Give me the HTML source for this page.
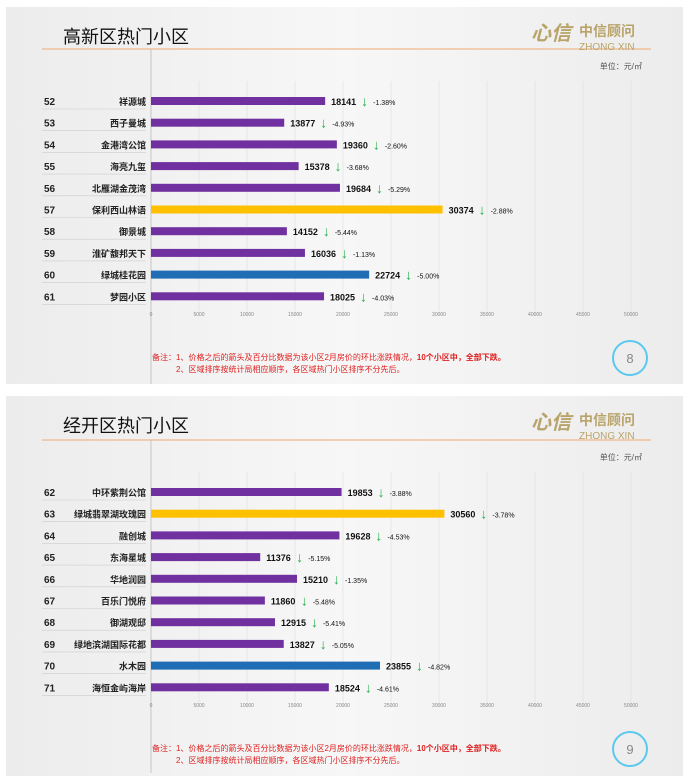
<!DOCTYPE html>
<html><head><meta charset="utf-8">
<style>
body{margin:0;width:689px;height:781px;background:#fff;overflow:hidden;font-family:"Liberation Sans","Noto Sans CJK SC",sans-serif;}
.panel{position:absolute;left:6px;width:677px;background:linear-gradient(90deg,#ececec,#f7f7f7 50%,#ececec);}
</style></head><body>
<div class="panel" style="top:7px;height:377px"><svg id="s1" width="677" height="377"></svg></div>
<div class="panel" style="top:396px;height:380px"><svg id="s2" width="677" height="380"></svg></div>
<script>
const titles1="高新区热门小区";
const ranks1=[52,53,54,55,56,57,58,59,60,61];
const names1=["祥源城","西子曼城","金港湾公馆","海亮九玺","北雁湖金茂湾","保利西山林语","御景城","淮矿馥邦天下","绿城桂花园","梦园小区"];
const prices1=[18141,13877,19360,15378,19684,30374,14152,16036,22724,18025];
const changes1=["-1.38%","-4.93%","-2.60%","-3.68%","-5.29%","-2.88%","-5.44%","-1.13%","-5.00%","-4.03%"];
const colors1=["p","p","p","p","p","g","p","p","b","p"];
const titles2="经开区热门小区";
const ranks2=[62,63,64,65,66,67,68,69,70,71];
const names2=["中环紫荆公馆","绿城翡翠湖玫瑰园","融创城","东海星城","华地润园","百乐门悦府","御湖观邸","绿地滨湖国际花都","水木园","海恒金屿海岸"];
const prices2=[19853,30560,19628,11376,15210,11860,12915,13827,23855,18524];
const changes2=["-3.88%","-3.78%","-4.53%","-5.15%","-1.35%","-5.48%","-5.41%","-5.05%","-4.82%","-4.61%"];
const colors2=["p","g","p","p","p","p","p","p","b","p"];
const ticks=[0,5000,10000,15000,20000,25000,30000,35000,40000,45000,50000];
const NS="http://www.w3.org/2000/svg";
const col={p:"#7030a0",g:"#ffc000",b:"#1f6db5"};
function xs(v){return 145+v*0.0096;}
function mk(svg,tag,at,txt){const e=document.createElementNS(NS,tag);for(const k in at)e.setAttribute(k,at[k]);if(txt!==undefined)e.textContent=txt;svg.appendChild(e);return e;}
function draw(id,title,ranks,names,prices,changes,colors,y0,pg){
 const s=document.getElementById(id);
 let e=mk(s,"text",{x:57,y:36,"font-size":18,fill:"#111"},title);
 
 mk(s,"line",{x1:36,y1:y0-52,x2:645,y2:y0-52,stroke:"#f0b68a","stroke-width":1.2});
 e=mk(s,"text",{x:525,y:33,"font-size":20,"font-style":"italic","font-weight":"bold",fill:"#b8a36a"},"心信");
 
 mk(s,"text",{x:573,y:29,"font-size":14,"font-weight":"bold",fill:"#b8a36a"},"中信顾问");
 mk(s,"text",{x:573,y:43,"font-size":10,fill:"#b8a36a"},"ZHONG XIN");
 e=mk(s,"text",{x:636,y:y0-32,"font-size":8,fill:"#555","text-anchor":"end"},"单位：元/㎡");
 
 mk(s,"line",{x1:145,y1:y0-52,x2:145,y2:377,stroke:"#bbb","stroke-width":0.8});
 ticks.forEach((t,i)=>{ if(i>0)mk(s,"line",{x1:xs(t),y1:y0-20,x2:xs(t),y2:y0+210,stroke:"#ddd","stroke-width":0.6});
  const l=mk(s,"text",{x:xs(t),y:y0+215,"font-size":5,fill:"#888","text-anchor":"middle"},t);
  });
 prices.forEach((v,i)=>{const y=y0+i*21.7;
  mk(s,"text",{x:38,y:y+4,"font-size":10,"font-weight":"bold",fill:"#222"},ranks[i]);
  mk(s,"line",{x1:36,y1:y+8,x2:140,y2:y+8,stroke:"#ccc","stroke-width":0.6});
  const n=mk(s,"text",{x:140,y:y+4,"font-size":9,"font-weight":"bold",fill:"#222","text-anchor":"end"},names[i]);
  
  const b=mk(s,"rect",{x:145,y:y-4,width:xs(v)-145,height:8,fill:col[colors[i]]});
  
  const vx=xs(v)+6;
  const t=mk(s,"text",{x:vx,y:y+4,"font-size":9,"font-weight":"bold",fill:"#111"},v);
  
  mk(s,"text",{x:vx+30,y:y+5,"font-size":14,"font-weight":"bold",fill:"#22b14c"},"↓");
  const c=mk(s,"text",{x:vx+42,y:y+4,"font-size":7,fill:"#111"},changes[i]);
  
 });
 const ny=y0+259;
 e=mk(s,"text",{x:146,y:ny,"font-size":8,fill:"#e02020"},"备注：1、价格之后的箭头及百分比数据为该小区2月房价的环比涨跌情况，");
 
 mk(s,"tspan",{"font-weight":"bold"},"10个小区中，全部下跌。");
 e.appendChild(s.lastChild);
 mk(s,"text",{x:170,y:ny+12,"font-size":8,fill:"#e02020"},"2、区域排序按统计局相应顺序，各区域热门小区排序不分先后。");
 mk(s,"circle",{cx:624,cy:ny-2,r:17,fill:"none",stroke:"#5bc8ef","stroke-width":2});
 e=mk(s,"text",{x:624,y:ny+3,"font-size":13,fill:"#888","text-anchor":"middle"},pg);
 
}
draw("s1",titles1,ranks1,names1,prices1,changes1,colors1,94,"8");
draw("s2",titles2,ranks2,names2,prices2,changes2,colors2,96,"9");
</script>
</body></html>
